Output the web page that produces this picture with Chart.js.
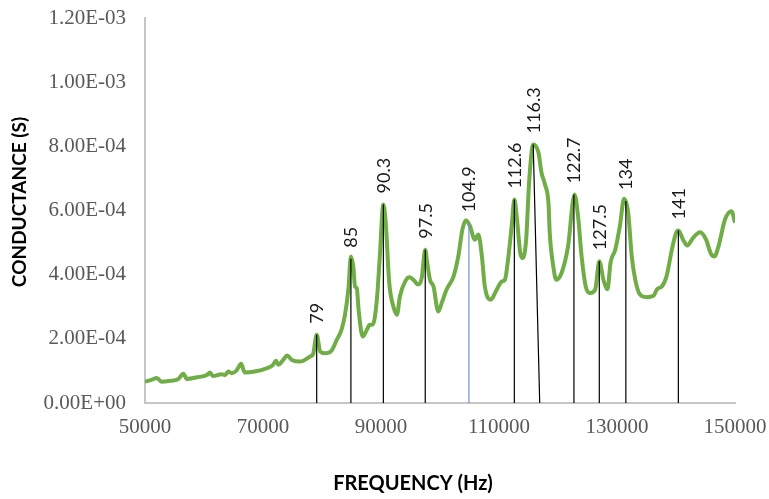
<!DOCTYPE html>
<html>
<head>
<meta charset="utf-8">
<script src="https://cdn.jsdelivr.net/npm/chart.js@4.4.1/dist/chart.umd.min.js"></script>
<style>
  html, body { margin: 0; padding: 0; background: #ffffff; }
  #wrap { width: 769px; height: 499px; }
</style>
</head>
<body>
<div id="wrap"><canvas id="conductanceChart" width="769" height="499"></canvas></div>
<script>
// frequency sweep (Hz) and conductance (S)
var freqHz = [
  50000, 51100, 52000, 52800, 54200, 55600, 56500, 57100, 58800, 60500,
  61000, 61500, 63000, 63600, 64100, 64700, 65500, 66300, 66900, 68600,
  70600, 71700, 72200, 72600, 73400, 74100, 74900, 76300, 78000, 78500,
  79100, 79700, 80500, 81600, 82500, 83300, 83900, 84500, 84900, 85300,
  85600, 85900, 86200, 86900, 87600, 88100, 88600, 89300, 89800, 90400,
  90800, 91400, 92100, 92700, 93200, 94100, 94800, 95500, 96300, 96900,
  97500, 97800, 98300, 98900, 99700, 100300, 101100, 102300, 103100, 103800,
  104400, 105100, 105900, 106500, 107100, 107600, 108600, 109600, 110500, 111000,
  111600, 112200, 112600, 113000, 113600, 114000, 114600, 115100, 115800, 116700,
  117200, 117800, 118400, 118600, 119200, 119700, 120600, 121700, 122800, 123400,
  124000, 124700, 125400, 126300, 127000, 127700, 128400, 128900, 129700, 130500,
  131200, 131900, 132500, 133100, 133900, 135000, 136200, 136800, 137600, 138400,
  139300, 140000, 140400, 141200, 141900, 142900, 144100, 145100, 145900, 146500,
  147200, 148300, 149400, 150000
];
var conductance = [
  6.66e-5, 7.19e-5, 7.8e-5, 6.66e-5, 6.9e-5, 7.4e-5, 9.1e-5, 7.5e-5, 8.0e-5, 8.75e-5,
  9.5e-5, 8.4e-5, 9.0e-5, 8.75e-5, 9.8e-5, 9.3e-5, 1.01e-4, 1.22e-4, 9.5e-5, 9.8e-5,
  1.08e-4, 1.19e-4, 1.32e-4, 1.19e-4, 1.34e-4, 1.48e-4, 1.34e-4, 1.29e-4, 1.45e-4, 1.53e-4,
  2.13e-4, 1.6e-4, 1.55e-4, 1.63e-4, 1.97e-4, 2.28e-4, 2.75e-4, 3.6e-4, 4.57e-4, 4.26e-4,
  3.63e-4, 3.58e-4, 2.91e-4, 2.07e-4, 2.28e-4, 2.44e-4, 2.44e-4, 3.22e-4, 4.57e-4, 6.19e-4,
  5.62e-4, 3.74e-4, 3.01e-4, 2.75e-4, 3.32e-4, 3.79e-4, 3.92e-4, 3.84e-4, 3.69e-4, 3.9e-4,
  4.78e-4, 4.42e-4, 3.84e-4, 3.63e-4, 2.85e-4, 3.12e-4, 3.53e-4, 3.95e-4, 4.57e-4, 5.41e-4,
  5.7e-4, 5.51e-4, 5.09e-4, 5.25e-4, 4.57e-4, 3.63e-4, 3.22e-4, 3.53e-4, 3.79e-4, 3.84e-4,
  4.57e-4, 5.62e-4, 6.34e-4, 5.82e-4, 4.68e-4, 4.52e-4, 5.09e-4, 6.87e-4, 8.06e-4, 7.8e-4,
  7.18e-4, 6.81e-4, 6.19e-4, 5.3e-4, 4.26e-4, 3.84e-4, 4.05e-4, 4.88e-4, 6.5e-4, 5.82e-4,
  4.57e-4, 3.63e-4, 3.43e-4, 3.53e-4, 4.42e-4, 3.84e-4, 3.55e-4, 4.37e-4, 4.78e-4, 5.53e-4,
  6.37e-4, 5.93e-4, 4.57e-4, 3.84e-4, 3.38e-4, 3.3e-4, 3.34e-4, 3.55e-4, 3.63e-4, 3.95e-4,
  4.78e-4, 5.3e-4, 5.38e-4, 5.09e-4, 4.91e-4, 5.15e-4, 5.32e-4, 5.09e-4, 4.66e-4, 4.57e-4,
  4.88e-4, 5.72e-4, 5.98e-4, 5.62e-4
];

// resonance markers: top and foot of each drop line, its height, and its label (kHz)
var peakFreq     = [79100, 84900, 90400, 97500, 104900, 112600, 115800, 122700, 127000, 131500, 140400];
var peakBaseFreq = [79100, 84900, 90400, 97500, 104900, 112600, 116900, 122700, 127000, 131500, 140400];
var peakTop      = [2.13e-4, 4.5e-4, 6.19e-4, 4.78e-4, 5.6e-4, 6.34e-4, 8.06e-4, 6.5e-4, 4.42e-4, 6.3e-4, 5.38e-4];
var peakLabel    = ['79', '85', '90.3', '97.5', '104.9', '112.6', '116.3', '122.7', '127.5', '134', '141'];

var xTickValues = [50000, 70000, 90000, 110000, 130000, 150000];
var yTickValues = [0, 0.0002, 0.0004, 0.0006, 0.0008, 0.001, 0.0012];
var yTickLabels = ['0.00E+00', '2.00E-04', '4.00E-04', '6.00E-04', '8.00E-04', '1.00E-03', '1.20E-03'];

var blueMarker = '104.9';

var datasets = [];
datasets.push({
  label: 'Conductance',
  data: freqHz.map(function(f, i) { return { x: f, y: conductance[i] }; }),
  showLine: true,
  borderColor: '#70ad47',
  borderWidth: 4,
  pointRadius: 0,
  cubicInterpolationMode: 'monotone',
  order: 2
});
for (var i = 0; i < peakFreq.length; i++) {
  datasets.push({
    label: peakLabel[i],
    data: [{ x: peakBaseFreq[i], y: 0 }, { x: peakFreq[i], y: peakTop[i] }],
    showLine: true,
    borderColor: peakLabel[i] === blueMarker ? '#6f93d6' : '#000000',
    borderWidth: 1.2,
    pointRadius: 0,
    order: 1
  });
}

// rotated peak labels plus the two axis titles
var textLayer = {
  id: 'textLayer',
  afterDatasetsDraw: function(chart) {
    var ctx = chart.ctx;
    var xs = chart.scales.x, ys = chart.scales.y;
    ctx.save();
    ctx.font = '18px Lato';
    ctx.fillStyle = '#1a1a1a';
    ctx.textAlign = 'left';
    ctx.textBaseline = 'alphabetic';
    for (var i = 0; i < peakLabel.length; i++) {
      var px = xs.getPixelForValue(peakFreq[i]);
      var py = ys.getPixelForValue(peakTop[i]);
      ctx.save();
      ctx.translate(px + 6.5, py - 11);
      ctx.rotate(-Math.PI / 2);
      ctx.fillText(peakLabel[i], 0, 0);
      ctx.restore();
    }
    ctx.font = 'bold 20px Lato';
    ctx.fillStyle = '#000000';
    ctx.textAlign = 'center';
    ctx.textBaseline = 'middle';
    ctx.fillText('FREQUENCY (Hz)', 413, 484);
    ctx.font = 'bold 19px Lato';
    ctx.translate(20, 202);
    ctx.rotate(-Math.PI / 2);
    ctx.fillText('CONDUCTANCE (S)', 0, 0);
    ctx.restore();
  }
};

var tickFont = { family: '"Liberation Serif", "Times New Roman", serif', size: 21 };

new Chart(document.getElementById('conductanceChart'), {
  type: 'scatter',
  data: { datasets: datasets },
  options: {
    responsive: false,
    animation: false,
    layout: { padding: { top: 18, right: 34, bottom: 0, left: 0 } },
    plugins: { legend: { display: false }, tooltip: { enabled: false } },
    scales: {
      x: {
        type: 'linear',
        min: 50000,
        max: 150000,
        afterBuildTicks: function(s) { s.ticks = xTickValues.map(function(v) { return { value: v }; }); },
        afterFit: function(s) {
          s.height = 96;
          s.paddingLeft = 0;
          s.paddingRight = 0;
        },
        grid: { display: false, drawTicks: false },
        border: { color: '#c6c6c6', width: 2 },
        ticks: {
          font: tickFont,
          color: '#595959',
          padding: 12,
          maxRotation: 0,
          callback: function(v) { return String(v); }
        }
      },
      y: {
        min: 0,
        max: 0.0012,
        afterBuildTicks: function(s) { s.ticks = yTickValues.map(function(v) { return { value: v }; }); },
        afterFit: function(s) {
          s.width = 145;
          s.paddingTop = 0;
          s.paddingBottom = 0;
        },
        grid: { display: false, drawTicks: false },
        border: { color: '#c6c6c6', width: 2 },
        ticks: {
          font: tickFont,
          color: '#595959',
          padding: 19,
          callback: function(v, idx) { return yTickLabels[idx]; }
        }
      }
    }
  },
  plugins: [textLayer]
});
</script>
</body>
</html>
